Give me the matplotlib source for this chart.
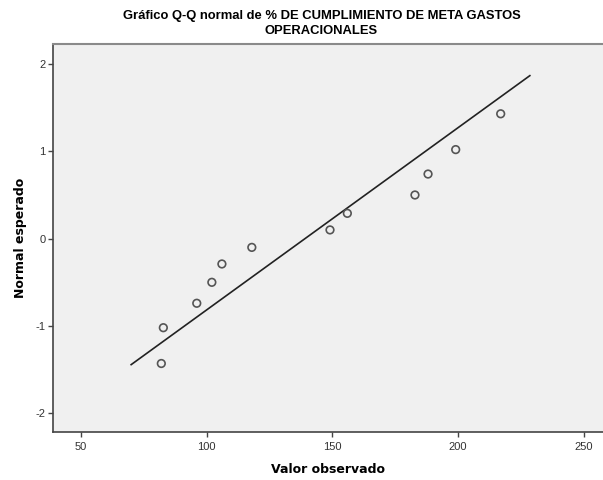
import matplotlib
matplotlib.use("Agg")
import matplotlib.pyplot as plt

# Data
observed = [82.0, 82.8, 96.1, 102.1, 106.1, 118.0, 149.1, 156.0, 182.9, 188.1, 199.1, 217.0]
expected_normal = [-1.43, -1.02, -0.74, -0.50, -0.29, -0.10, 0.10, 0.29, 0.50, 0.74, 1.02, 1.43]
line_x = [70.0, 228.6]
line_y = [-1.443, 1.867]
xticks = [50, 100, 150, 200, 250]
yticks = [-2, -1, 0, 1, 2]

title_lines = ["Gráfico Q-Q normal de % DE CUMPLIMIENTO DE META GASTOS", "OPERACIONALES"]

W, H = 603, 480
fig = plt.figure(figsize=(W / 100, H / 100), dpi=100)
left_px, top_px, bottom_px = 53.3, 44.3, 432.3
ax = fig.add_axes([left_px / W, 1 - bottom_px / H, 1 - left_px / W, (bottom_px - top_px) / H])
ax.set_facecolor("#f0f0f0")

ax.plot(line_x, line_y, color="#222222", lw=1.2, zorder=2)
ax.scatter(observed, expected_normal, s=30, facecolors="none", edgecolors="#555555",
           linewidths=1.2, zorder=3)

ax.set_xlim(39.03, 257.7)
ax.set_ylim(-2.218, 2.226)
ax.set_xticks(xticks)
ax.set_yticks(yticks)
ax.set_xticklabels([str(t) for t in xticks], family="Liberation Sans", fontsize=8, color="#333333")
ax.set_yticklabels([str(t) for t in yticks], family="Liberation Sans", fontsize=8, color="#333333")
ax.tick_params(axis="both", direction="out", length=3.6, width=1, color="#444444")
ax.tick_params(axis="x", pad=3.5)
ax.tick_params(axis="y", pad=2)

for s in ["left", "bottom"]:
    ax.spines[s].set_color("#444444")
    ax.spines[s].set_linewidth(1.2)
ax.spines["top"].set_color("#8a8a8a")
ax.spines["top"].set_linewidth(1.5)
ax.spines["right"].set_visible(False)

ax.set_xlabel("Valor observado", family="DejaVu Sans", fontweight="bold", fontsize=9, labelpad=8)
ax.set_ylabel("Normal esperado", family="DejaVu Sans", fontweight="bold", fontsize=9, labelpad=6)

fig.text(321.5 / W, 1 - 16 / H, title_lines[0], ha="center", va="center", family="Liberation Sans",
         fontweight="bold", fontsize=9.4)
fig.text(321.5 / W, 1 - 31.5 / H, title_lines[1], ha="center", va="center", family="Liberation Sans",
         fontweight="bold", fontsize=9.4)

fig.savefig("out.png", dpi=100)
